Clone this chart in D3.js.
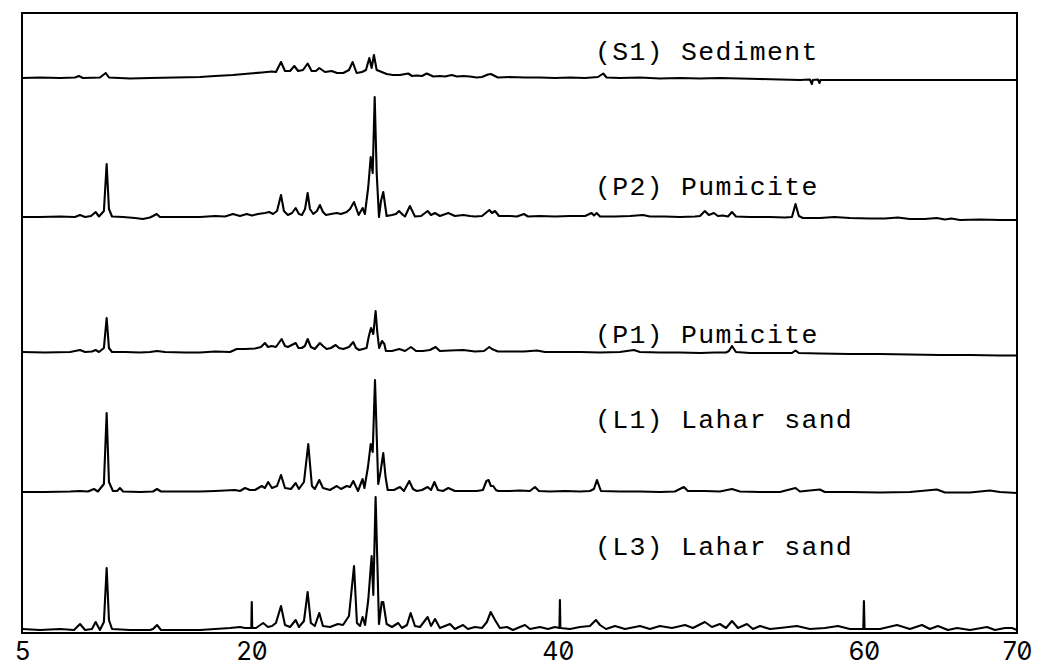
<!DOCTYPE html>
<html>
<head>
<meta charset="utf-8">
<script src="https://cdn.jsdelivr.net/npm/d3@7/dist/d3.min.js"></script>
<style>
  html, body { margin: 0; padding: 0; background: #fff; }
  svg { display: block; }
  .tick-label { font-family: Inter, "DejaVu Sans", sans-serif; font-feature-settings: "zero" 1; font-variant-numeric: slashed-zero; }
  .series-label { font-family: "Liberation Mono", "Courier New", monospace; }
</style>
</head>
<body>
<svg id="chart" width="1038" height="666"></svg>
<script>
// ---------------- DATA (2θ in degrees, relative intensity) ----------------
const xTickValues = [5, 20, 40, 60, 70];
const seriesNames = ["(S1) Sediment", "(P2) Pumicite", "(P1) Pumicite", "(L1) Lahar sand", "(L3) Lahar sand"];
const seriesOffsets = [555, 416, 281, 141, 3];

const s1Sediment = [
  [5.00,0],[6.18,0.5],[7.48,0],[8.46,0.5],[8.72,2],[8.98,0],[10.09,0.5],[10.47,5],[10.68,0.5],
  [12.05,-0.5],[13.36,0],[14.99,0.5],[16.63,1],[17.61,2],[18.78,3],[19.89,4.5],[20.68,5.5],
  [21.31,6.5],[21.59,6],[21.92,16],[22.18,7],[22.51,7],[22.79,12],[23.04,7],[23.36,8],
  [23.66,14.5],[23.92,7],[24.20,7],[24.42,10],[24.79,6],[25.23,7],[25.58,5],[25.99,5],
  [26.36,8],[26.60,16],[26.86,5],[27.21,6],[27.47,8],[27.69,20],[27.84,10],[27.99,23],
  [28.17,8],[28.50,6],[28.82,4],[29.23,3],[29.69,3],[30.23,4.5],[30.48,2],[30.78,2.5],
  [31.13,2],[31.44,4.5],[31.87,1.5],[32.30,2],[32.63,1.5],[33.07,3],[33.42,1.5],[33.83,2],
  [34.26,1.5],[34.70,0.5],[35.05,1],[35.44,3.5],[35.63,4],[36.09,0.5],[36.87,1],[37.85,0.5],
  [38.83,0.5],[39.82,0],[40.80,0.5],[41.78,0],[42.63,1],[42.97,4.5],[43.19,0.5],[44.06,0],
  [45.37,0.5],[46.67,-0.5],[47.98,0],[49.29,-0.5],[50.59,0],[51.90,-0.5],[53.20,-1],
  [54.51,-1.5],[55.82,-2],[56.47,-1.5],[56.60,-6],[56.66,-2],[57.00,-1.5],[57.10,-5],[57.16,-2],
  [57.78,-2],[59.74,-2],[62.35,-2],[64.96,-2],[67.57,-2],[70.00,-2]
];

const p2Pumicite = [
  [5.00,0],[6.18,0],[7.48,0.5],[8.46,0],[8.79,2],[9.12,0],[9.51,1],[9.81,5],[10.03,0.5],
  [10.35,6],[10.53,53],[10.68,8],[10.88,0.5],[11.60,0],[12.38,-1],[12.90,-2],[13.36,-0.5],
  [13.56,1],[13.80,3],[14.01,0],[15.32,0],[16.63,0],[17.61,1],[18.26,0.5],[18.78,3],
  [19.24,1],[19.68,3],[20.02,1.5],[20.41,3],[20.87,4],[21.15,5],[21.40,3],[21.66,6],
  [21.92,22],[22.11,6],[22.37,2],[22.64,4],[22.88,9],[23.09,3],[23.29,2],[23.49,8],
  [23.66,24],[23.81,8],[24.03,3],[24.27,6],[24.46,12],[24.66,5],[24.86,2],[25.18,3],
  [25.56,4],[25.84,3],[26.21,5],[26.43,8],[26.69,15],[26.99,2],[27.25,9],[27.40,3],
  [27.62,30],[27.78,60],[27.91,44],[28.04,120],[28.17,44],[28.32,0],[28.45,16],[28.60,25],
  [28.82,1],[29.17,2],[29.43,3],[29.63,6],[29.89,2],[30.02,0.5],[30.34,11],[30.67,0.5],
  [31.07,1],[31.50,6],[31.72,2],[31.98,4],[32.30,1],[32.85,4],[33.28,1],[33.83,2],
  [34.26,1],[34.59,0.5],[35.05,1],[35.53,7],[35.70,4],[35.90,6],[36.16,1],[36.87,1],
  [37.33,0.5],[37.79,3],[38.05,0.5],[38.83,1],[39.82,0.5],[40.80,1],[41.78,1],[42.21,4],
  [42.37,1.5],[42.54,4],[42.76,0.5],[43.74,0.5],[44.72,1],[45.57,2],[46.02,0.5],[47.00,0.5],
  [47.98,0],[48.96,0.5],[49.29,1],[49.61,6],[49.87,2],[50.20,4],[50.46,1],[50.79,1.5],
  [51.12,0.5],[51.38,5],[51.64,0.5],[52.55,0],[53.86,0],[54.84,-0.5],[55.30,0],[55.53,13],
  [55.75,1],[56.01,-1],[57.12,-1],[58.07,0],[59.08,-1],[60.39,-1.5],[61.37,-1.5],[62.22,-0.5],
  [63.00,-2],[63.98,-2],[64.76,-1],[65.29,-2.5],[65.72,-1.5],[66.27,-3],[67.57,-2.5],
  [68.88,-3],[70.00,-3]
];

const p1Pumicite = [
  [5.00,0],[6.50,-0.5],[8.14,0],[8.79,2],[9.12,0],[9.57,0.5],[9.81,2],[10.03,0],[10.35,4],
  [10.53,34],[10.68,4],[10.88,0],[11.73,0],[12.71,-0.5],[13.36,0],[13.82,1],[14.34,0],
  [15.65,-0.5],[16.63,-0.5],[17.61,0.5],[18.59,0],[19.03,3],[19.57,3],[20.22,3.5],[20.61,5],
  [20.87,9],[21.07,5],[21.31,6],[21.59,5],[21.96,13],[22.18,6],[22.37,5],[22.88,9],
  [23.06,4],[23.27,4],[23.48,6],[23.66,13],[23.87,5],[24.13,3],[24.46,9],[24.66,6],
  [24.90,3],[25.18,4],[25.49,7],[25.71,4],[25.99,3],[26.36,5],[26.64,10],[26.82,4],
  [27.03,2],[27.27,3],[27.51,4],[27.66,16],[27.80,24],[27.95,18],[28.10,41],[28.21,20],
  [28.33,4],[28.52,11],[28.67,8],[28.77,1],[29.17,1],[29.65,3],[30.02,1],[30.41,5],
  [30.74,1],[31.19,1],[31.65,2],[32.02,5],[32.30,1],[32.96,1.5],[33.83,2],[34.59,0.5],
  [35.18,1],[35.53,5],[35.70,3],[36.09,0.5],[36.87,0.5],[37.79,0.5],[38.64,1.5],[39.16,0],
  [40.14,0],[41.45,0],[42.76,-0.5],[44.06,0],[44.97,2],[45.37,0],[46.67,-0.5],[47.98,-0.5],
  [49.29,-1],[50.27,-0.5],[50.99,-0.5],[51.18,1],[51.38,6],[51.64,0],[52.55,-1],[53.86,-1],
  [55.30,-1],[55.53,1.5],[55.75,-1],[57.12,-1.5],[59.08,-2],[61.04,-2],[63.00,-2.5],
  [64.96,-3],[66.92,-3],[68.88,-3.5],[70.00,-3.5]
];

const l1LaharSand = [
  [5.00,0],[6.50,0],[8.14,0.5],[8.79,1],[9.31,0.5],[9.70,3],[9.96,0.5],[10.35,8],[10.53,79],
  [10.68,10],[10.94,1],[11.21,1],[11.40,4],[11.60,0.5],[12.71,0],[13.56,0.5],[13.82,3],
  [14.08,0.5],[15.32,0.5],[16.63,0.5],[17.61,1],[18.91,2],[19.24,1],[19.57,4],[19.89,2],
  [20.22,2],[20.66,6],[20.87,4],[21.08,10],[21.33,4],[21.66,6],[21.92,17],[22.18,4],
  [22.57,3],[22.88,9],[23.09,3],[23.42,10],[23.70,48],[23.94,6],[24.13,3],[24.42,12],
  [24.66,4],[25.12,2],[25.56,6],[25.84,3],[26.21,6],[26.43,5],[26.64,11],[26.95,1],
  [27.25,13],[27.37,4],[27.60,25],[27.78,48],[27.91,40],[28.06,112],[28.27,8],[28.42,20],
  [28.60,39],[28.75,15],[28.89,2],[29.30,2],[29.69,5],[29.95,1],[30.30,11],[30.54,3],
  [30.78,1],[31.13,2],[31.50,5],[31.72,2],[31.94,10],[32.17,2],[32.50,1],[32.85,4],
  [33.28,1],[33.83,1],[34.26,1],[34.70,1],[35.11,2],[35.34,11],[35.48,12],[35.63,6],
  [35.78,6],[35.96,2],[36.11,1],[36.87,1],[37.53,1.5],[38.18,1],[38.51,5],[38.77,1],
  [39.49,0.5],[40.47,1],[41.45,0.5],[42.10,1],[42.36,3],[42.56,12],[42.82,1],[44.06,0.5],
  [45.37,0.5],[46.67,0],[47.65,0.5],[48.24,5],[48.50,1],[49.61,1],[50.59,0.5],[51.38,3],
  [51.90,0.5],[53.20,0],[54.51,0],[55.53,4],[55.82,0.5],[57.12,2.5],[57.45,0],[59.08,0],
  [61.04,-0.5],[63.00,0],[64.77,2.5],[65.29,-0.5],[66.93,-0.5],[68.23,1.5],[68.88,0],[70.00,-1]
];

const l3LaharSand = [
  [5.00,1],[6.18,0],[7.48,1],[8.40,0],[8.79,6],[9.12,0],[9.57,1],[9.81,8],[10.09,0],
  [10.35,8],[10.53,62],[10.68,10],[10.88,1],[12.05,0],[13.36,0],[13.56,1],[13.82,5],
  [14.08,0],[15.32,0],[16.63,0],[17.61,1],[18.59,2],[19.24,3],[19.57,2],[19.98,2],
  [20.01,28],[20.04,2],[20.29,2],[20.75,7],[21.07,3],[21.33,4],[21.59,7],[21.92,24],
  [22.18,5],[22.51,3],[22.88,10],[23.09,3],[23.42,9],[23.66,38],[23.87,7],[24.13,4],
  [24.42,17],[24.66,4],[25.12,3],[25.64,6],[25.97,5],[26.36,14],[26.69,64],[26.88,7],
  [27.08,4],[27.25,13],[27.41,5],[27.62,30],[27.84,74],[27.95,35],[28.10,133],[28.32,6],
  [28.50,28],[28.60,28],[28.82,6],[29.17,3],[29.58,7],[29.82,2],[30.15,5],[30.39,17],
  [30.67,4],[31.00,3],[31.50,13],[31.72,4],[31.98,11],[32.30,2],[32.96,6],[33.28,1],
  [33.81,5],[34.13,1],[34.59,3],[35.05,2],[35.37,8],[35.62,18],[35.90,10],[36.22,2],
  [36.68,3],[37.07,0],[37.53,3],[37.86,5],[38.18,1],[38.84,3],[39.36,1],[39.82,3],
  [40.11,2],[40.14,30],[40.17,2],[40.80,1],[41.45,3],[42.10,4],[42.49,10],[42.76,5],
  [43.15,1],[43.74,4],[44.39,1],[45.37,4],[46.02,1],[46.67,4],[47.46,2],[48.31,5],
  [48.83,2],[49.61,8],[50.07,3],[50.59,6],[50.99,2],[51.38,9],[51.77,2],[52.36,6],
  [52.75,1],[53.21,4],[53.86,1],[54.51,2],[55.62,4],[56.47,1],[57.45,2],[58.30,4],
  [59.08,1],[59.96,1],[60.00,29],[60.04,1],[61.05,1],[62.16,5],[63.00,1],[63.79,5],
  [64.31,1],[64.83,4],[65.49,0],[66.08,2],[66.93,0],[68.04,3],[68.56,0],[69.21,2],
  [69.67,2],[70.00,0]
];

const seriesData = [s1Sediment, p2Pumicite, p1Pumicite, l1LaharSand, l3LaharSand];

// ---------------- LAYOUT ----------------
const frame = { left: 22, right: 1017, top: 13, bottom: 633 };
const labelX = 595;
const labelLift = [18, 22, 9, 64, 75]; // label baseline height above each trace's offset (data units)

const svg = d3.select("#chart");

const x = d3.scaleLinear().domain([5, 70]).range([frame.left, frame.right]);
const y = d3.scaleLinear().domain([0, 620]).range([frame.bottom, frame.top]);

// traces
const line = d3.line()
  .x(d => x(d[0]))
  .y(d => y(d[1]));

seriesData.forEach((pts, i) => {
  const shifted = pts.map(p => [p[0], p[1] + seriesOffsets[i]]);
  svg.append("path")
    .datum(shifted)
    .attr("d", line)
    .attr("fill", "none")
    .attr("stroke", "#000")
    .attr("stroke-width", 2.1)
    .attr("stroke-linejoin", "round");
});

// frame
svg.append("rect")
  .attr("x", frame.left).attr("y", frame.top)
  .attr("width", frame.right - frame.left)
  .attr("height", frame.bottom - frame.top)
  .attr("fill", "none").attr("stroke", "#000").attr("stroke-width", 2);

// x axis labels
const xAxis = d3.axisBottom(x).tickValues(xTickValues).tickSize(0).tickPadding(0).tickFormat(d3.format("d"));
const gx = svg.append("g").attr("transform", `translate(0,${frame.bottom})`).call(xAxis);
gx.select(".domain").remove();
gx.selectAll("text")
  .attr("class", "tick-label")
  .attr("y", 27)
  .attr("dy", 0)
  .attr("fill", "#000")
  .style("font-size", "25px")
  .style("font-family", "Inter, 'DejaVu Sans', sans-serif");

// series labels
seriesNames.forEach((name, i) => {
  svg.append("text")
    .attr("class", "series-label")
    .attr("x", labelX)
    .attr("y", y(seriesOffsets[i] + labelLift[i]))
    .attr("fill", "#000")
    .style("font-size", "26.5px")
    .style("letter-spacing", "1.3px")
    .style("white-space", "pre")
    .text(name);
});
</script>
</body>
</html>
